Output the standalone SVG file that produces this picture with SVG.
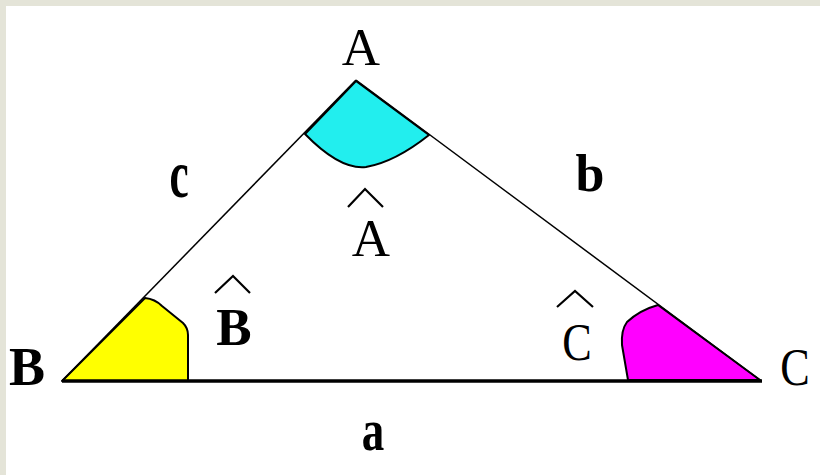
<svg xmlns="http://www.w3.org/2000/svg" width="820" height="475" viewBox="0 0 820 475">
<style>
.t{font-family:"Liberation Serif","Times New Roman",serif;fill:#000;text-anchor:middle}
.b{font-weight:bold}
.side{stroke:#000;stroke-width:1.5;fill:none}
.ang{stroke:#000;stroke-width:2;stroke-linejoin:round}
.hat{stroke:#000;stroke-width:2.2;fill:none}
</style>
<rect x="0" y="0" width="820" height="475" fill="#e4e4d8"/>
<rect x="6" y="6" width="814" height="469" fill="#fff"/>
<g id="angle-A"><path class="ang" fill="#22eeee" d="M356,81 L305,134 Q340,170 366,167 Q395,162 429,135 Z"/></g>
<g id="angle-B"><path class="ang" fill="#ffff00" d="M62,381 L145,298 Q155,299 162,306 L183,323 Q188,328 188,335 L188,381 Z"/></g>
<g id="angle-C"><path class="ang" fill="#ff00ff" d="M760,380 L658,305 Q640,310 627,322 Q621,330 622,345 L628,380 Z"/></g>
<g id="connectors">
<line class="side" x1="62" y1="381" x2="356" y2="80"/>
<line class="side" x1="356" y1="80" x2="760" y2="380"/>
<line x1="62" y1="381" x2="762" y2="381" stroke="#000" stroke-width="3.5"/>
</g>
<g id="vertex-A"><text class="t" x="361" y="65" font-size="53">A</text></g>
<g id="vertex-B"><text class="t b" x="27" y="385" font-size="54">B</text></g>
<g id="vertex-C"><text class="t" x="795" y="385" font-size="52" transform="translate(795,0) scale(0.85,1) translate(-795,0)">C</text></g>
<g id="side-c"><text class="t b" x="0" y="0" font-size="54" transform="translate(179,197) scale(0.8,1.25)">c</text></g>
<g id="side-b"><text class="t b" x="590" y="191" font-size="52">b</text></g>
<g id="side-a"><text class="t b" x="0" y="0" font-size="50" transform="translate(373,450) scale(0.9,1.2)">a</text></g>
<g id="angle-label-A">
<polyline class="hat" points="348,207 365,189 383,207"/>
<text class="t" x="371" y="256" font-size="53">A</text>
</g>
<g id="angle-label-B">
<polyline class="hat" points="215,293 233,276 250,293"/>
<text class="t b" x="234" y="345" font-size="53">B</text>
</g>
<g id="angle-label-C">
<polyline class="hat" points="557,307 575,291 593,307"/>
<text class="t" x="577" y="360" font-size="52" transform="translate(577,0) scale(0.85,1) translate(-577,0)">C</text>
</g>
</svg>
